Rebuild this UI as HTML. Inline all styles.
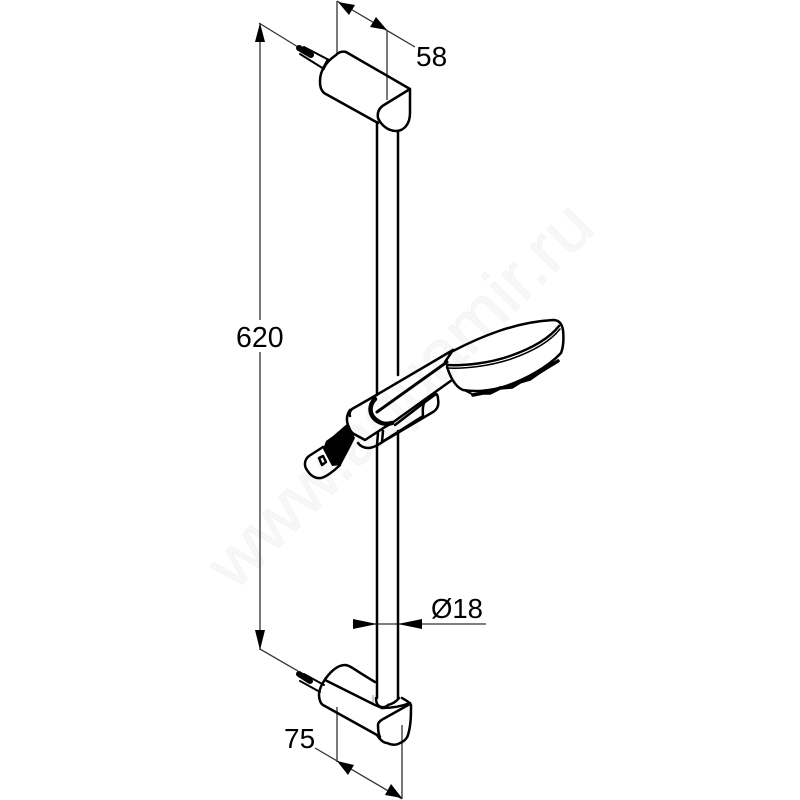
<!DOCTYPE html>
<html>
<head>
<meta charset="utf-8">
<style>
html,body{margin:0;padding:0;background:#fff;}
svg{display:block;}
text{font-family:"Liberation Sans",Arial,sans-serif;}
</style>
</head>
<body>
<svg width="800" height="800" viewBox="0 0 800 800" xmlns="http://www.w3.org/2000/svg">
<defs><filter id="b" x="-5%" y="-5%" width="110%" height="110%"><feGaussianBlur stdDeviation="0.35"/></filter></defs>
<rect width="800" height="800" fill="#fff"/>
<!-- watermark -->
<text transform="translate(235,592) rotate(-45)" font-size="68" textLength="512" lengthAdjust="spacingAndGlyphs" fill="#f7f7f7" stroke="#f0f0f0" stroke-width="0.5">www.aquamir.ru</text>

<g filter="url(#b)">
<g fill="none" stroke="#333" stroke-width="1.3">
  <!-- 620 dim -->
  <path d="M260 24V320M260 352V650"/>
  <path d="M259 23L298 47M260 649L298 671"/>
  <!-- 58 dim -->
  <path d="M337 1V54M387 30V100M337 1L415 47"/>
  <!-- 18 dim -->
  <path d="M353 624H486"/>
  <!-- 75 dim -->
  <path d="M337 707V762M402 725V799M315 748L402 799"/>
  <path d="M373 695V703" stroke="#999" stroke-width="1"/>
</g>
<g fill="#000" stroke="none">
  <path d="M260 23L255 42H265Z"/>
  <path d="M260 650L255 630H265Z"/>
  <path d="M338 2L355 5L349 15Z"/>
  <path d="M387 30L370 27L376 17Z"/>
  <path d="M377 624L353 619V629Z"/>
  <path d="M398 624L422 619V629Z"/>
  <path d="M337 761L354 765L348 775Z"/>
  <path d="M402 798L385 795L391 784Z"/>
</g>

<g fill="none" stroke="#000" stroke-width="2.5" stroke-linecap="round" stroke-linejoin="round">
  <!-- rail -->
  <path d="M377 122V395M377 446V698"/>
  <path d="M398 131V375M398 431V698"/>

  <!-- top screw -->
  <path d="M304 47L329 60M300 54L324 69" stroke-width="2"/>
  <path d="M299 48L311 55" stroke-width="6"/>
  <path d="M328 60L323 69" stroke-width="3"/>
  <!-- top bracket -->
  <path d="M346 52C342 51 339 52 336 55C326 62 320 71 320 81C320 87 321 90 324 93L378 123"/>
  <path d="M346 52L410 89V113C410 124 404 131 396 131C388 131 381 125 378 118C377 112 379 108 384 105L410 89"/>

  <!-- bottom screw -->
  <path d="M304 674L324 685M300 681L320 692" stroke-width="2"/>
  <path d="M299 674L310 681" stroke-width="6"/>
  <!-- bottom bracket -->
  <path d="M326 678C332 670 338 665 345 665C349 665 352 668 375 682"/>
  <path d="M325 680L375 705L382 708"/>
  <path d="M326 678C321 685 319 690 319 695C319 700 321 704 323 705L377 735C380 740 384 743 387 743C391 745 395 745 398 744C403 742 407 739 408 735C411 725 411 715 411 705C410 702 405 700 402 698"/>
  <path d="M376 698C376 702 377 704 378 705C381 708 385 708 388 705C392 704 396 702 399 698"/>
  <path d="M382 708C390 708 400 707 410 703"/>
  <path d="M410 704L385 718C381 720 378 722 378 725C378 730 379 735 380 737"/>

  <!-- hose connector -->
  <path d="M323 447L309 456C304 460 304 466 307 470C310 475 315 479 321 478C326 477 334 471 340 465"/>
  <path d="M319 458L323 456L326 462L322 465Z" stroke-width="2.5"/>

  <!-- shower head -->
  <path d="M453 351C480 337 515 322 553 320C559 320 562 324 563 330C564 340 563 348 561 353C548 367 525 380 503 387C490 391 475 392 463 390C455 387 450 376 447 367"/>
  <path d="M447 365C465 366 490 363 510 356C530 349 548 340 559 326"/>
  <path d="M447 368C465 369 490 366 511 359C531 352 549 343 560 329" stroke-width="1.5"/>
  <path d="M473 395L483 393L490 393L500 388L512 387L520 382L530 379L540 372L548 367L558 361" stroke-width="3.5"/>
  <path d="M464 390L474 395" stroke-width="2"/>

  <!-- handle -->
  <path d="M453 350L373 397"/>
  <path d="M447 362L377 412" stroke-width="3"/>
  <path d="M452 380L392 423"/>
  <path d="M453 350L445 362"/>

  <!-- collar ring -->
  <path d="M375 399C370 404 369 411 373 417C378 423 385 425 392 423" stroke-width="4.5"/>

  <!-- holder -->
  <path d="M373 397L352 409C350 411 349 414 350 416"/>
  <path d="M350 410C347 414 346 420 348 425C350 431 352 433 354 434L365 440L385 427L392 423"/>
  <path d="M358 443C360 446 364 448 368 448C373 448 378 445 384 441L433 412C438 409 439 404 438 399C438 396 437 394 436 394L425 402"/>
  <path d="M378 433L377 445M383 431L382 442M382 442L423 416"/>
  <path d="M424 403C422 408 423 413 423 417"/>
  <path d="M395 425L425 402"/>
</g>
<!-- hose black -->
<path d="M348 423L355 438L351 446L341 465L332 466L323 449L326 441L333 436Z" fill="#000"/>

<g fill="#000">
  <text x="416" y="66" font-size="28">58</text>
  <text x="236" y="347" font-size="28.5">620</text>
  <text x="431" y="618" font-size="27.5">Ø18</text>
  <text x="284" y="748" font-size="28">75</text>
</g>
</g>
</svg>
</body>
</html>
